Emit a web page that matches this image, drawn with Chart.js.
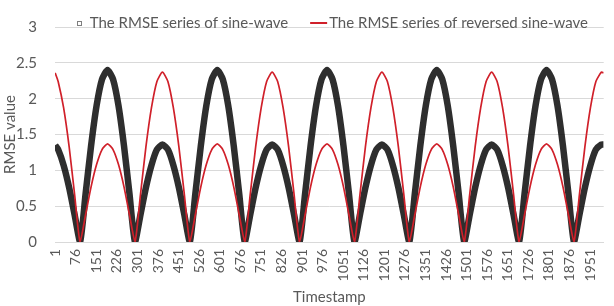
<!DOCTYPE html>
<html lang="en">
<head>
  <meta charset="UTF-8" />
  <title>RMSE series</title>
  <script src="https://cdn.jsdelivr.net/npm/chart.js"></script>
  <style>
    html, body { margin: 0; padding: 0; background: #fff; }
    #wrap { width: 614px; height: 306px; }
  </style>
</head>
<body>
  <div id="wrap"><canvas id="rmseChart"></canvas></div>

  <script>
    const timestamps = [
      1,
      12, 32, 52, 72, 92, 112, 132, 152, 172, 192, 212, 232, 252, 272, 292, 312, 332, 352, 372, 392,
      412, 432, 452, 472, 492, 512, 532, 552, 572, 592, 612, 632, 652, 672, 692, 712, 732, 752, 772, 792,
      812, 832, 852, 872, 892, 912, 932, 952, 972, 992, 1012, 1032, 1052, 1072, 1092, 1112, 1132, 1152, 1172, 1192,
      1212, 1232, 1252, 1272, 1292, 1312, 1332, 1352, 1372, 1392, 1412, 1432, 1452, 1472, 1492, 1512, 1532, 1552, 1572, 1592,
      1612, 1632, 1652, 1672, 1692, 1712, 1732, 1752, 1772, 1792, 1812, 1832, 1852, 1872, 1892, 1912, 1932, 1952, 1972, 1992,
      2000
    ];

    const sineRmse = [
      1.35,
      1.29, 1.07, 0.76, 0.38, 0, 0.67, 1.34, 1.90, 2.27, 2.40, 2.27, 1.90, 1.34, 0.67, 0, 0.38, 0.76, 1.07, 1.29, 1.36,
      1.29, 1.07, 0.76, 0.38, 0, 0.67, 1.34, 1.90, 2.27, 2.40, 2.27, 1.90, 1.34, 0.67, 0, 0.38, 0.76, 1.07, 1.29, 1.36,
      1.29, 1.07, 0.76, 0.38, 0, 0.67, 1.34, 1.90, 2.27, 2.40, 2.27, 1.90, 1.34, 0.67, 0, 0.38, 0.76, 1.07, 1.29, 1.36,
      1.29, 1.07, 0.76, 0.38, 0, 0.67, 1.34, 1.90, 2.27, 2.40, 2.27, 1.90, 1.34, 0.67, 0, 0.38, 0.76, 1.07, 1.29, 1.36,
      1.29, 1.07, 0.76, 0.38, 0, 0.67, 1.34, 1.90, 2.27, 2.40, 2.27, 1.90, 1.34, 0.67, 0, 0.38, 0.76, 1.07, 1.29, 1.36,
      1.36
    ];

    const reversedRmse = [
      2.36,
      2.24, 1.87, 1.33, 0.66, 0, 0.38, 0.77, 1.08, 1.29, 1.37, 1.29, 1.08, 0.77, 0.38, 0, 0.66, 1.33, 1.87, 2.24, 2.37,
      2.24, 1.87, 1.33, 0.66, 0, 0.38, 0.77, 1.08, 1.29, 1.37, 1.29, 1.08, 0.77, 0.38, 0, 0.66, 1.33, 1.87, 2.24, 2.37,
      2.24, 1.87, 1.33, 0.66, 0, 0.38, 0.77, 1.08, 1.29, 1.37, 1.29, 1.08, 0.77, 0.38, 0, 0.66, 1.33, 1.87, 2.24, 2.37,
      2.24, 1.87, 1.33, 0.66, 0, 0.38, 0.77, 1.08, 1.29, 1.37, 1.29, 1.08, 0.77, 0.38, 0, 0.66, 1.33, 1.87, 2.24, 2.37,
      2.24, 1.87, 1.33, 0.66, 0, 0.38, 0.77, 1.08, 1.29, 1.37, 1.29, 1.08, 0.77, 0.38, 0, 0.66, 1.33, 1.87, 2.24, 2.37,
      2.36
    ];

    const xTickLabels = [
      1, 76, 151, 226, 301, 376, 451, 526, 601, 676, 751, 826, 901, 976, 1051,
      1126, 1201, 1276, 1351, 1426, 1501, 1576, 1651, 1726, 1801, 1876, 1951
    ];

    const seriesNames = ["The RMSE series of sine-wave", "The RMSE series of reversed sine-wave"];

    const grey = "#595959";
    const gridGrey = "#d9d9d9";
    const red = "#d0202a";

    // legend drawn inside the plot, like the Excel original
    const insideLegend = {
      id: "insideLegend",
      afterDraw(chart) {
        const { ctx, chartArea } = chart;
        ctx.save();
        ctx.font = "15px Lato";
        ctx.textBaseline = "middle";
        const w1 = ctx.measureText(seriesNames[0]).width;
        const w2 = ctx.measureText(seriesNames[1]).width;
        const mark = 17, gap = 2, between = 22;
        const total = mark + gap + w1 + between + mark + gap + w2;
        let x = (chartArea.left + chartArea.right) / 2 - total / 2;
        const y = 23;

        // hollow square
        ctx.strokeStyle = "#7f7f7f";
        ctx.lineWidth = 1;
        ctx.strokeRect(Math.round(x + mark / 2 - 2) + 0.5, Math.round(y - 2) + 0.5, 4, 4);
        x += mark + gap;
        ctx.fillStyle = grey;
        ctx.fillText(seriesNames[0], x, y);
        x += w1 + between;

        // red line
        ctx.strokeStyle = red;
        ctx.lineWidth = 2;
        ctx.beginPath();
        ctx.moveTo(x, y);
        ctx.lineTo(x + mark, y);
        ctx.stroke();
        x += mark + gap;
        ctx.fillText(seriesNames[1], x, y);
        ctx.restore();
      }
    };

    const ctx = document.getElementById("rmseChart").getContext("2d");
    new Chart(ctx, {
      type: "line",
      data: {
        datasets: [
          {
            label: seriesNames[0],
            data: timestamps.map((t, i) => ({ x: t, y: sineRmse[i] })),
            borderColor: "rgba(0, 0, 0, 0.82)",
            borderWidth: 6.5,
            pointRadius: 0,
            tension: 0.2,
            order: 2
          },
          {
            label: seriesNames[1],
            data: timestamps.map((t, i) => ({ x: t, y: reversedRmse[i] })),
            borderColor: red,
            borderWidth: 1.7,
            pointRadius: 0,
            tension: 0.2,
            order: 1
          }
        ]
      },
      options: {
        responsive: true,
        maintainAspectRatio: false,
        animation: false,
        layout: { padding: { top: 9, right: 3, left: 0, bottom: 0 } },
        plugins: {
          legend: { display: false },
          tooltip: { enabled: false }
        },
        scales: {
          x: {
            type: "linear",
            min: 0.5,
            max: 2000.5,
            afterBuildTicks: s => { s.ticks = xTickLabels.map(v => ({ value: v })); },
            afterFit: s => { s.height = 64; },
            ticks: {
              minRotation: 90,
              maxRotation: 90,
              autoSkip: false,
              padding: 7,
              color: grey,
              font: { family: "Lato", size: 14 },
              callback: v => String(v)
            },
            grid: { display: false, drawTicks: false },
            border: { display: true, color: gridGrey },
            title: {
              display: true,
              text: "Timestamp",
              color: grey,
              padding: 0,
              font: { family: "Lato", size: 15 }
            }
          },
          y: {
            min: 0,
            max: 3,
            afterFit: s => { s.width = 55; },
            ticks: {
              stepSize: 0.5,
              padding: 18,
              color: grey,
              font: { family: "Lato", size: 15 },
              callback: v => String(v)
            },
            grid: { color: gridGrey, drawTicks: false },
            border: { display: false },
            title: {
              display: true,
              text: "RMSE value",
              color: grey,
              padding: 1,
              font: { family: "Lato", size: 15 }
            }
          }
        }
      },
      plugins: [insideLegend]
    });
  </script>
</body>
</html>
